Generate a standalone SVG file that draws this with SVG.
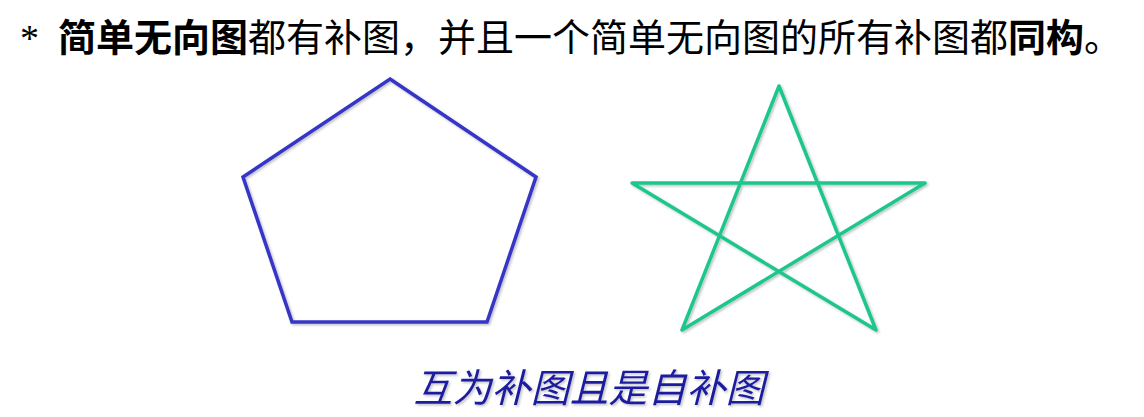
<svg xmlns="http://www.w3.org/2000/svg" width="1144" height="417" viewBox="0 0 1144 417">
  <defs>
    <filter id="sh" x="-10%" y="-10%" width="120%" height="130%">
      <feDropShadow dx="1.5" dy="1.5" stdDeviation="1" flood-color="#000" flood-opacity="0.25"/>
    </filter>
    <style>
      .title { font-family: "Noto Sans CJK SC", "Liberation Serif", sans-serif; font-size: 38px; fill: #000; }
      .b { font-weight: bold; }
      .ast { font-family: "Liberation Serif", serif; font-size: 38px; fill: #000; }
      .cap { font-family: "Noto Sans CJK SC", sans-serif; font-size: 39px; font-style: italic; fill: #1c1c9e; }
      .edge { fill: none; stroke-width: 3.5; filter: url(#sh); }
      .pent { stroke: #3535c8; stroke-linejoin: miter; }
      .star { stroke: #1ec68e; stroke-linejoin: round; }
    </style>
  </defs>
  <rect width="1144" height="417" fill="#ffffff"/>

  <g id="title">
    <text class="ast" x="20" y="51">*</text>
    <text class="title" x="58" y="51"><tspan class="b">简单无向图</tspan>都有补图，并且一个简单无向图的所有补图都<tspan class="b">同构</tspan>。</text>
  </g>

  <g id="pentagon">
    <polygon class="edge pent" points="390,79 536,177 487,322 292,322 243,177"/>
  </g>

  <g id="star">
    <polygon class="edge star" points="779,86 682,330 925,183 632,183 876,330"/>
  </g>

  <g id="caption">
    <text class="cap" x="589" y="402" text-anchor="middle" filter="url(#sh)">互为补图且是自补图</text>
  </g>
</svg>
